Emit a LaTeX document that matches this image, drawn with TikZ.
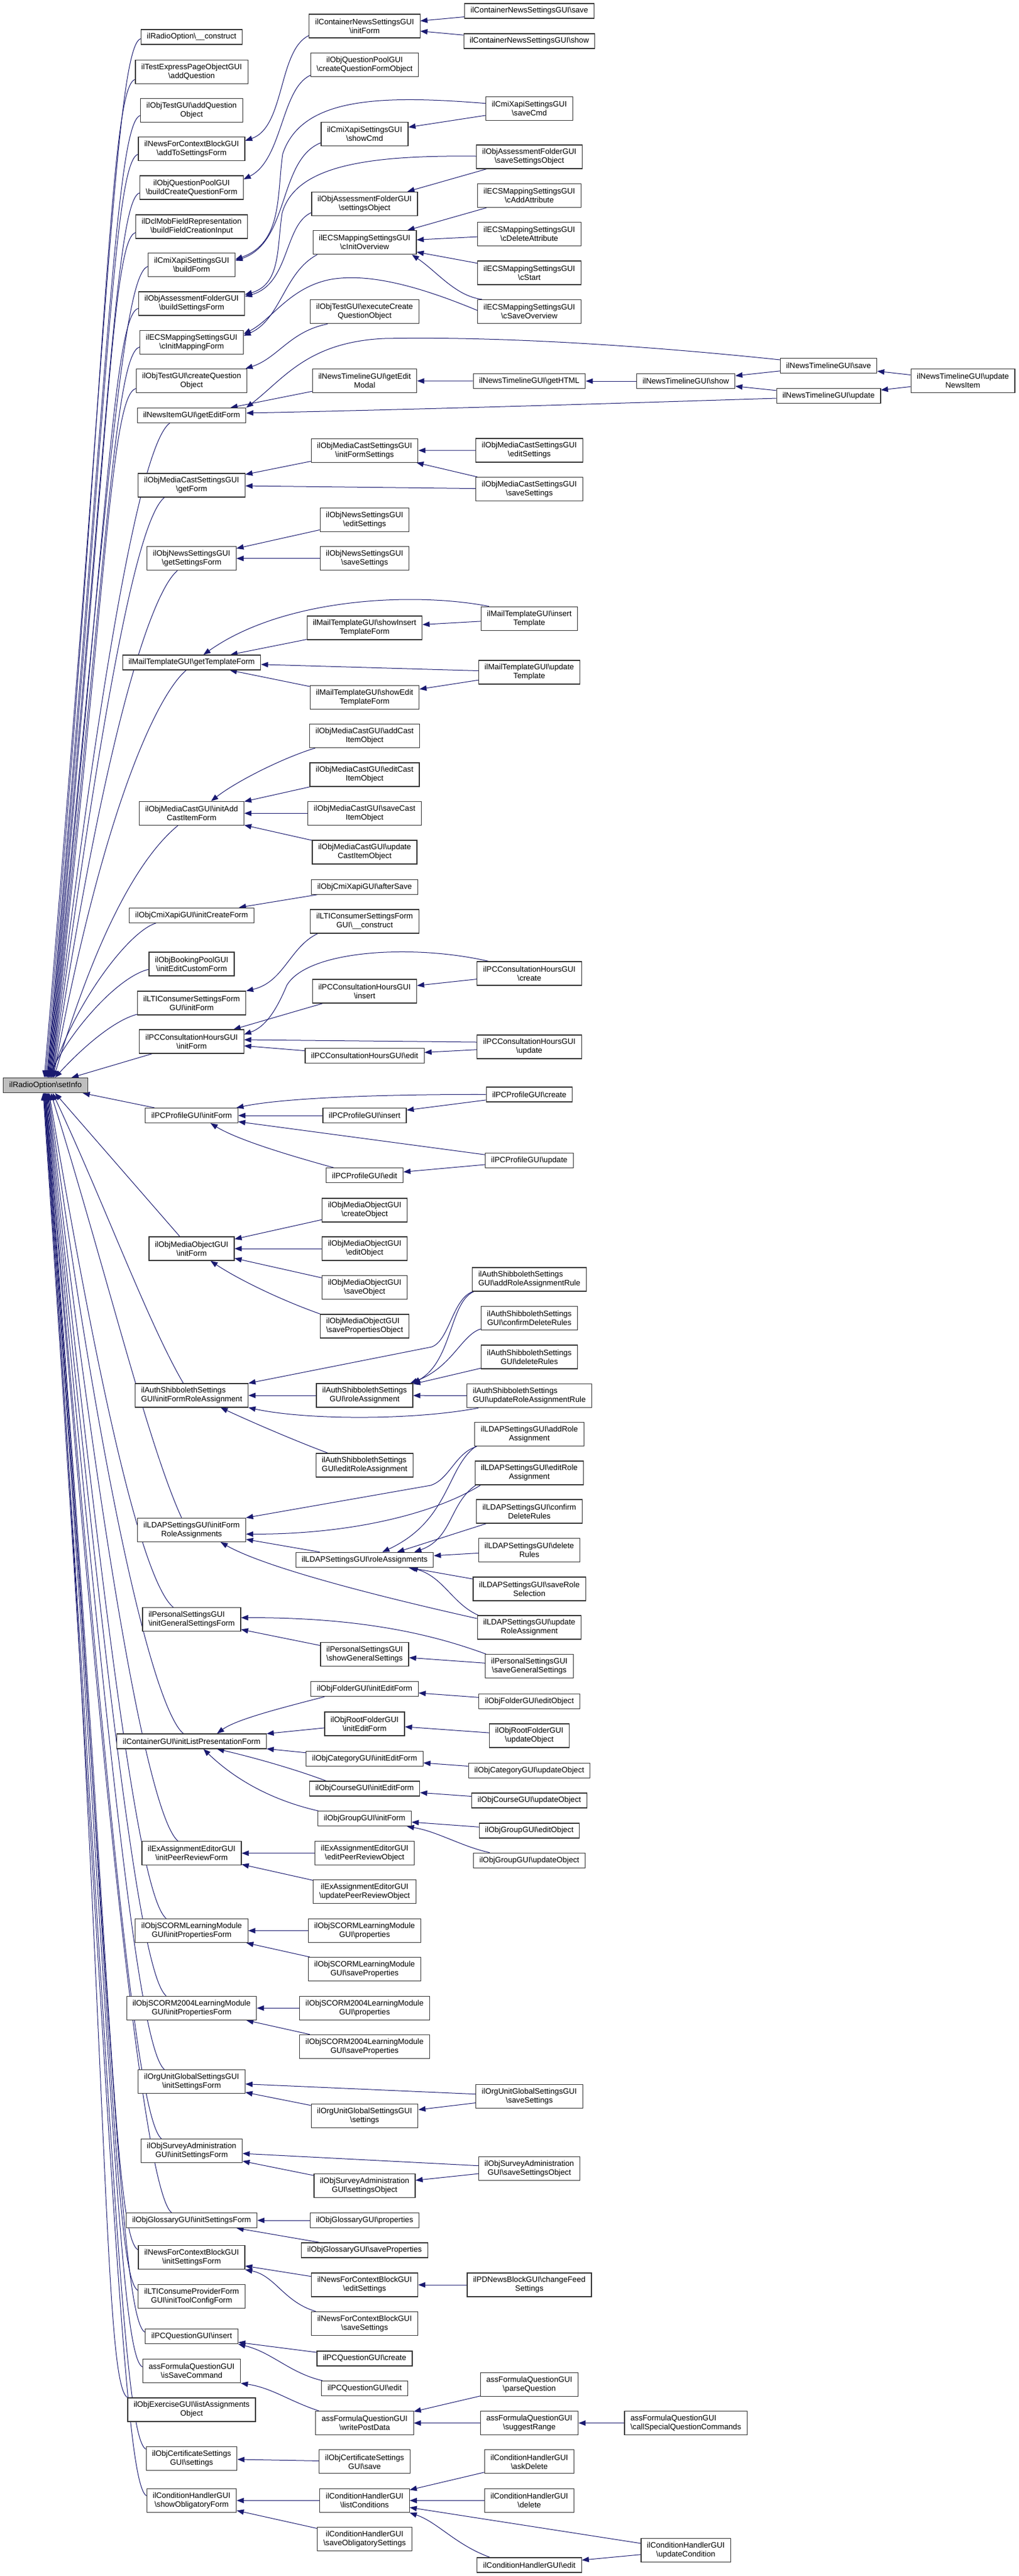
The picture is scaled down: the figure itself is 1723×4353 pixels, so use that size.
\documentclass[tikz,border=0pt]{standalone}
\usepackage{fontspec}
\setmainfont{Liberation Sans}
\usetikzlibrary{arrows.meta,backgrounds}
\definecolor{navyc}{RGB}{25,25,112}
\definecolor{infogray}{RGB}{191,191,191}
\newcommand{\Bsl}{\textbackslash}
\tikzset{
 fnbox/.style={draw=black!80, line width=1.2pt, fill=white, font=\fontsize{13.2}{15}\selectfont, inner xsep=10pt, inner ysep=4pt, minimum height=25pt, align=center},
 two/.style={minimum height=40pt},
 lft/.style={align=left},
 call/.style={draw=navyc, line width=1pt, -{Triangle[length=12pt,width=9pt]}},
}
\newcommand{\upE}[5]{\draw[call] (#1) .. controls ({#2-42},{#3+#4}) and (180,{#3+0.3*(1821-#3)}) .. ([xshift=#5pt]setinfo.north);}
\newcommand{\dnE}[5]{\draw[call] (#1) .. controls ({#2-42},{#3-#4}) and (185,{#3-0.3*(#3-1846)}) .. ([xshift=#5pt]setinfo.south);}
\begin{document}
\begin{tikzpicture}[x=1pt,y=-1pt]
\useasboundingbox (0,0) rectangle (1723,4353);
% ---------------- column 1 ----------------
\node[fnbox] (c1a) at (324,62.5) {ilRadioOption\Bsl\_\_construct};
\node[fnbox,two] (c1b) at (324,121.3) {ilTestExpressPageObjectGUI\\\Bsl addQuestion};
\node[fnbox,two] (c1c) at (324,186.3) {ilObjTestGUI\Bsl addQuestion\\Object};
\node[fnbox,two] (c1d) at (324,251.7) {ilNewsForContextBlockGUI\\\Bsl addToSettingsForm};
\node[fnbox,two] (c1e) at (324,317) {ilObjQuestionPoolGUI\\\Bsl buildCreateQuestionForm};
\node[fnbox,two] (c1f) at (324,383) {ilDclMobFieldRepresentation\\\Bsl buildFieldCreationInput};
\node[fnbox,two] (c1g) at (324,447.4) {ilCmiXapiSettingsGUI\\\Bsl buildForm};
\node[fnbox,two] (c1h) at (324,513) {ilObjAssessmentFolderGUI\\\Bsl buildSettingsForm};
\node[fnbox,two] (c1i) at (324,578.4) {ilECSMappingSettingsGUI\\\Bsl cInitMappingForm};
\node[fnbox,two] (c1j) at (324,643.5) {ilObjTestGUI\Bsl createQuestion\\Object};
\node[fnbox] (c1k) at (324,702) {ilNewsItemGUI\Bsl getEditForm};
\node[fnbox,two] (c1l) at (324,820) {ilObjMediaCastSettingsGUI\\\Bsl getForm};
\node[fnbox,two] (c1m) at (324,943.7) {ilObjNewsSettingsGUI\\\Bsl getSettingsForm};
\node[fnbox] (c1n) at (324,1119.4) {ilMailTemplateGUI\Bsl getTemplateForm};
\node[fnbox,two] (c1o) at (324,1374.3) {ilObjMediaCastGUI\Bsl initAdd\\CastItemForm};
\node[fnbox] (c1p) at (324,1546.6) {ilObjCmiXapiGUI\Bsl initCreateForm};
\node[fnbox,two] (c1q) at (324,1629) {ilObjBookingPoolGUI\\\Bsl initEditCustomForm};
\node[fnbox,two] (c1r) at (324,1695) {ilLTIConsumerSettingsForm\\GUI\Bsl initForm};
\node[fnbox,two] (c1s) at (324,1760) {ilPCConsultationHoursGUI\\\Bsl initForm};
\node[fnbox,fill=infogray] (setinfo) at (77,1834) {ilRadioOption\Bsl setInfo};
\node[fnbox] (c1t) at (324,1885) {ilPCProfileGUI\Bsl initForm};
\node[fnbox,two] (c1u) at (324,2110) {ilObjMediaObjectGUI\\\Bsl initForm};
\node[fnbox,two,lft] (c1v) at (324,2358) {ilAuthShibbolethSettings\\GUI\Bsl initFormRoleAssignment};
\node[fnbox,two] (c1w) at (324,2585.3) {ilLDAPSettingsGUI\Bsl initForm\\RoleAssignments};
\node[fnbox,two,lft] (c1x) at (324,2736.6) {ilPersonalSettingsGUI\\\Bsl initGeneralSettingsForm};
\node[fnbox] (c1y) at (324,2942.4) {ilContainerGUI\Bsl initListPresentationForm};
\node[fnbox,two] (c1z) at (324,3131.6) {ilExAssignmentEditorGUI\\\Bsl initPeerReviewForm};
\node[fnbox,two] (c1aa) at (324,3262.5) {ilObjSCORMLearningModule\\GUI\Bsl initPropertiesForm};
\node[fnbox,two] (c1ab) at (324,3393.3) {ilObjSCORM2004LearningModule\\GUI\Bsl initPropertiesForm};
\node[fnbox,two] (c1ac) at (324,3517.6) {ilOrgUnitGlobalSettingsGUI\\\Bsl initSettingsForm};
\node[fnbox,two] (c1ad) at (324,3634.6) {ilObjSurveyAdministration\\GUI\Bsl initSettingsForm};
\node[fnbox] (c1ae) at (324,3752) {ilObjGlossaryGUI\Bsl initSettingsForm};
\node[fnbox,two] (c1af) at (324,3814.7) {ilNewsForContextBlockGUI\\\Bsl initSettingsForm};
\node[fnbox,two] (c1ag) at (324,3880.3) {ilLTIConsumeProviderForm\\GUI\Bsl initToolConfigForm};
\node[fnbox] (c1ah) at (324,3948) {ilPCQuestionGUI\Bsl insert};
\node[fnbox,two] (c1ai) at (324,4006.6) {assFormulaQuestionGUI\\\Bsl isSaveCommand};
\node[fnbox,two] (c1aj) at (324,4071.9) {ilObjExerciseGUI\Bsl listAssignments\\Object};
\node[fnbox,two] (c1ak) at (324,4154.5) {ilObjCertificateSettings\\GUI\Bsl settings};
\node[fnbox,two] (c1al) at (324,4225.4) {ilConditionHandlerGUI\\\Bsl showObligatoryForm};
% ---------------- column 2 ----------------
\node[fnbox,two] (cnsinit) at (616.5,44) {ilContainerNewsSettingsGUI\\\Bsl initForm};
\node[fnbox,two] (qpcreate) at (616.5,109.2) {ilObjQuestionPoolGUI\\\Bsl createQuestionFormObject};
\node[fnbox,two] (xshow) at (616.5,226.3) {ilCmiXapiSettingsGUI\\\Bsl showCmd};
\node[fnbox,two] (afsettings) at (616.5,344.3) {ilObjAssessmentFolderGUI\\\Bsl settingsObject};
\node[fnbox,two] (ecsov) at (616.5,409.7) {ilECSMappingSettingsGUI\\\Bsl cInitOverview};
\node[fnbox,two] (testexec) at (616.5,526.8) {ilObjTestGUI\Bsl executeCreate\\QuestionObject};
\node[fnbox,two] (ntmodal) at (616.5,643.6) {ilNewsTimelineGUI\Bsl getEdit\\Modal};
\node[fnbox,two] (mcsinit) at (616.5,761.2) {ilObjMediaCastSettingsGUI\\\Bsl initFormSettings};
\node[fnbox,two] (nsedit) at (616.5,878.5) {ilObjNewsSettingsGUI\\\Bsl editSettings};
\node[fnbox,two] (nssave) at (616.5,943.7) {ilObjNewsSettingsGUI\\\Bsl saveSettings};
\node[fnbox,two] (mtshowins) at (616.5,1061) {ilMailTemplateGUI\Bsl showInsert\\TemplateForm};
\node[fnbox,two] (mtshowedit) at (616.5,1178.8) {ilMailTemplateGUI\Bsl showEdit\\TemplateForm};
\node[fnbox,two] (mcadd) at (616.5,1243.5) {ilObjMediaCastGUI\Bsl addCast\\ItemObject};
\node[fnbox,two] (mcedit) at (616.5,1309) {ilObjMediaCastGUI\Bsl editCast\\ItemObject};
\node[fnbox,two] (mcsave) at (616.5,1374.3) {ilObjMediaCastGUI\Bsl saveCast\\ItemObject};
\node[fnbox,two] (mcupdate) at (616.5,1440) {ilObjMediaCastGUI\Bsl update\\CastItemObject};
\node[fnbox] (cmiafter) at (616.5,1498.7) {ilObjCmiXapiGUI\Bsl afterSave};
\node[fnbox,two] (lticonstruct) at (616.5,1557) {ilLTIConsumerSettingsForm\\GUI\Bsl\_\_construct};
\node[fnbox,two] (pchinsert) at (616.5,1675) {ilPCConsultationHoursGUI\\\Bsl insert};
\node[fnbox] (pchedit) at (616.5,1783.8) {ilPCConsultationHoursGUI\Bsl edit};
\node[fnbox] (pcpinsert) at (616.5,1885) {ilPCProfileGUI\Bsl insert};
\node[fnbox] (pcpedit) at (616.5,1986.3) {ilPCProfileGUI\Bsl edit};
\node[fnbox,two] (mocreate) at (616.5,2045) {ilObjMediaObjectGUI\\\Bsl createObject};
\node[fnbox,two] (moedit) at (616.5,2110) {ilObjMediaObjectGUI\\\Bsl editObject};
\node[fnbox,two] (mosave) at (616.5,2175.5) {ilObjMediaObjectGUI\\\Bsl saveObject};
\node[fnbox,two,lft] (moprops) at (616.5,2241) {ilObjMediaObjectGUI\\\Bsl savePropertiesObject};
\node[fnbox,two] (shibrole) at (616.5,2358) {ilAuthShibbolethSettings\\GUI\Bsl roleAssignment};
\node[fnbox,two,lft] (shibedit) at (616.5,2476) {ilAuthShibbolethSettings\\GUI\Bsl editRoleAssignment};
\node[fnbox] (ldaprole) at (616.5,2635.8) {ilLDAPSettingsGUI\Bsl roleAssignments};
\node[fnbox,two] (persshow) at (616.5,2795.7) {ilPersonalSettingsGUI\\\Bsl showGeneralSettings};
\node[fnbox] (folderinit) at (616.5,2854.1) {ilObjFolderGUI\Bsl initEditForm};
\node[fnbox,two] (rootinit) at (616.5,2913) {ilObjRootFolderGUI\\\Bsl initEditForm};
\node[fnbox] (catinit) at (616.5,2971.7) {ilObjCategoryGUI\Bsl initEditForm};
\node[fnbox] (crsinit) at (616.5,3022.5) {ilObjCourseGUI\Bsl initEditForm};
\node[fnbox] (grpinit) at (616.5,3073.2) {ilObjGroupGUI\Bsl initForm};
\node[fnbox,two] (exedit) at (616.5,3131.6) {ilExAssignmentEditorGUI\\\Bsl editPeerReviewObject};
\node[fnbox,two] (exupdate) at (616.5,3196.8) {ilExAssignmentEditorGUI\\\Bsl updatePeerReviewObject};
\node[fnbox,two] (scprops) at (616.5,3262.5) {ilObjSCORMLearningModule\\GUI\Bsl properties};
\node[fnbox,two] (scsave) at (616.5,3327.6) {ilObjSCORMLearningModule\\GUI\Bsl saveProperties};
\node[fnbox,two] (sc4props) at (616.5,3393.3) {ilObjSCORM2004LearningModule\\GUI\Bsl properties};
\node[fnbox,two] (sc4save) at (616.5,3458.4) {ilObjSCORM2004LearningModule\\GUI\Bsl saveProperties};
\node[fnbox,two] (ousettings) at (616.5,3575.8) {ilOrgUnitGlobalSettingsGUI\\\Bsl settings};
\node[fnbox,two] (svsettings) at (616.5,3693.4) {ilObjSurveyAdministration\\GUI\Bsl settingsObject};
\node[fnbox] (glprops) at (616.5,3752) {ilObjGlossaryGUI\Bsl properties};
\node[fnbox] (glsave) at (616.5,3802.4) {ilObjGlossaryGUI\Bsl saveProperties};
\node[fnbox,two] (nfcedit) at (616.5,3861) {ilNewsForContextBlockGUI\\\Bsl editSettings};
\node[fnbox,two] (nfcsave) at (616.5,3926.4) {ilNewsForContextBlockGUI\\\Bsl saveSettings};
\node[fnbox] (pcqcreate) at (616.5,3985.4) {ilPCQuestionGUI\Bsl create};
\node[fnbox] (pcqedit) at (616.5,4035.9) {ilPCQuestionGUI\Bsl edit};
\node[fnbox,two] (afwrite) at (616.5,4094.5) {assFormulaQuestionGUI\\\Bsl writePostData};
\node[fnbox,two] (certsave) at (616.5,4159.8) {ilObjCertificateSettings\\GUI\Bsl save};
\node[fnbox,two] (chlist) at (616.5,4225.4) {ilConditionHandlerGUI\\\Bsl listConditions};
\node[fnbox,two] (chsaveob) at (616.5,4290.4) {ilConditionHandlerGUI\\\Bsl saveObligatorySettings};
% ---------------- column 3 ----------------
\node[fnbox] (cnssave) at (895,18.4) {ilContainerNewsSettingsGUI\Bsl save};
\node[fnbox] (cnsshow) at (895,69.4) {ilContainerNewsSettingsGUI\Bsl show};
\node[fnbox,two] (xsave) at (895,183.7) {ilCmiXapiSettingsGUI\\\Bsl saveCmd};
\node[fnbox,two] (afsave) at (895,265) {ilObjAssessmentFolderGUI\\\Bsl saveSettingsObject};
\node[fnbox,two] (ecsadd) at (895,330.5) {ilECSMappingSettingsGUI\\\Bsl cAddAttribute};
\node[fnbox,two] (ecsdel) at (895,395.7) {ilECSMappingSettingsGUI\\\Bsl cDeleteAttribute};
\node[fnbox,two] (ecsstart) at (895,461) {ilECSMappingSettingsGUI\\\Bsl cStart};
\node[fnbox,two] (ecssave) at (895,526.5) {ilECSMappingSettingsGUI\\\Bsl cSaveOverview};
\node[fnbox] (nthtml) at (895,644) {ilNewsTimelineGUI\Bsl getHTML};
\node[fnbox,two] (mcsedit) at (895,761) {ilObjMediaCastSettingsGUI\\\Bsl editSettings};
\node[fnbox,two] (mcssave) at (895,826.6) {ilObjMediaCastSettingsGUI\\\Bsl saveSettings};
\node[fnbox,two] (mtins) at (895,1045.2) {ilMailTemplateGUI\Bsl insert\\Template};
\node[fnbox,two] (mtupd) at (895,1136) {ilMailTemplateGUI\Bsl update\\Template};
\node[fnbox,two] (pchcreate) at (895,1645) {ilPCConsultationHoursGUI\\\Bsl create};
\node[fnbox,two] (pchupdate) at (895,1769) {ilPCConsultationHoursGUI\\\Bsl update};
\node[fnbox] (pcpcreate) at (895,1849.5) {ilPCProfileGUI\Bsl create};
\node[fnbox] (pcpupdate) at (895,1961.2) {ilPCProfileGUI\Bsl update};
\node[fnbox,two,lft] (shibadd) at (895,2162) {ilAuthShibbolethSettings\\GUI\Bsl addRoleAssignmentRule};
\node[fnbox,two] (shibconf) at (895,2227.7) {ilAuthShibbolethSettings\\GUI\Bsl confirmDeleteRules};
\node[fnbox,two] (shibdel) at (895,2292.9) {ilAuthShibbolethSettings\\GUI\Bsl deleteRules};
\node[fnbox,two,lft] (shibupd) at (895,2358.6) {ilAuthShibbolethSettings\\GUI\Bsl updateRoleAssignmentRule};
\node[fnbox,two] (ldapadd) at (895,2423.7) {ilLDAPSettingsGUI\Bsl addRole\\Assignment};
\node[fnbox,two] (ldapedit) at (895,2489) {ilLDAPSettingsGUI\Bsl editRole\\Assignment};
\node[fnbox,two] (ldapconf) at (895,2554) {ilLDAPSettingsGUI\Bsl confirm\\DeleteRules};
\node[fnbox,two] (ldapdel) at (895,2619.3) {ilLDAPSettingsGUI\Bsl delete\\Rules};
\node[fnbox,two] (ldapsel) at (895,2685) {ilLDAPSettingsGUI\Bsl saveRole\\Selection};
\node[fnbox,two] (ldapupd) at (895,2750) {ilLDAPSettingsGUI\Bsl update\\RoleAssignment};
\node[fnbox,two] (perssave) at (895,2815.7) {ilPersonalSettingsGUI\\\Bsl saveGeneralSettings};
\node[fnbox] (folderedit) at (895,2874.6) {ilObjFolderGUI\Bsl editObject};
\node[fnbox,two] (rootupd) at (895,2933) {ilObjRootFolderGUI\\\Bsl updateObject};
\node[fnbox] (catupd) at (895,2992) {ilObjCategoryGUI\Bsl updateObject};
\node[fnbox] (crsupd) at (895,3042.5) {ilObjCourseGUI\Bsl updateObject};
\node[fnbox] (grpedit) at (895,3093.5) {ilObjGroupGUI\Bsl editObject};
\node[fnbox] (grpupd) at (895,3143.7) {ilObjGroupGUI\Bsl updateObject};
\node[fnbox,two] (ousave) at (895,3542.7) {ilOrgUnitGlobalSettingsGUI\\\Bsl saveSettings};
\node[fnbox,two] (svsave) at (895,3664.1) {ilObjSurveyAdministration\\GUI\Bsl saveSettingsObject};
\node[fnbox,two] (pdnews) at (895,3861) {ilPDNewsBlockGUI\Bsl changeFeed\\Settings};
\node[fnbox,two] (afparse) at (895,4029.4) {assFormulaQuestionGUI\\\Bsl parseQuestion};
\node[fnbox,two] (afsuggest) at (895,4094.5) {assFormulaQuestionGUI\\\Bsl suggestRange};
\node[fnbox,two] (chask) at (895,4159.8) {ilConditionHandlerGUI\\\Bsl askDelete};
\node[fnbox,two] (chdel) at (895,4225.4) {ilConditionHandlerGUI\\\Bsl delete};
\node[fnbox] (chedit) at (895,4334.4) {ilConditionHandlerGUI\Bsl edit};
% ---------------- columns 4-6 ----------------
\node[fnbox] (ntshow) at (1159.6,644) {ilNewsTimelineGUI\Bsl show};
\node[fnbox,two,lft] (afcall) at (1159.6,4094.5) {assFormulaQuestionGUI\\\Bsl callSpecialQuestionCommands};
\node[fnbox,two] (chupdcond) at (1159.6,4309.6) {ilConditionHandlerGUI\\\Bsl updateCondition};
\node[fnbox] (ntsave) at (1401,618) {ilNewsTimelineGUI\Bsl save};
\node[fnbox] (ntupdate) at (1401,669) {ilNewsTimelineGUI\Bsl update};
\node[fnbox,two] (ntupdni) at (1628,643.4) {ilNewsTimelineGUI\Bsl update\\NewsItem};

\begin{pgfonlayer}{background}
\fill[white] (0,0) rectangle (1723,4353);
% ---- edges into setInfo (upper) ----
\upE{[yshift=-3pt]c1a.west}{238}{65.5}{12}{-2}
\upE{[yshift=-13pt]c1b.west}{227}{134}{12}{0}
\upE{[yshift=-9pt]c1c.west}{236.5}{195}{12}{2}
\upE{[yshift=-9pt]c1d.west}{232}{261}{12}{3}
\upE{[yshift=-9pt]c1e.west}{236.5}{326}{12}{4}
\upE{[yshift=-10pt]c1f.west}{229}{393}{12}{5}
\upE{[yshift=-3pt]c1g.west}{248.6}{450.4}{12}{6}
\upE{[yshift=-8pt]c1h.west}{233}{521}{12}{7}
\upE{[yshift=-8pt]c1i.west}{235.4}{586.4}{12}{8}
\upE{[yshift=-13pt]c1j.west}{228.5}{656.5}{12}{9}
\upE{[xshift=-37pt]c1k.south}{287}{714.5}{30}{10}
\upE{[xshift=-46pt]c1l.south}{278}{840}{35}{11}
\upE{[xshift=-24pt]c1m.south}{300}{963.7}{35}{12}
\upE{[xshift=-9pt]c1n.south}{315}{1131.9}{35}{13}
\upE{[xshift=-23pt]c1o.south}{301}{1394.3}{35}{14}
\draw[call] ([xshift=46pt]c1p.south west) .. controls (215,1575) and (125,1700) .. ([xshift=9pt]setinfo.north);
\draw[call] ([yshift=-9pt]c1q.west) .. controls (200,1650) and (120,1740) .. ([xshift=5pt]setinfo.north);
\draw[call] ([yshift=-19pt]c1r.west) .. controls (190,1725) and (135,1775) .. ([xshift=16pt]setinfo.north);
\draw[call] ([xshift=22pt]c1s.south west) -- ([xshift=-28pt]setinfo.north east);
% ---- edges into setInfo (lower) ----
\draw[call] ([xshift=16pt]c1t.north west) -- ([xshift=-9pt]setinfo.south east);
\draw[call] ([xshift=-20pt]c1u.north) -- ([xshift=16pt]setinfo.south);
\draw[call] ([xshift=-14pt]c1v.north) .. controls (250,2235) and (175,2030) .. ([xshift=12pt]setinfo.south);
\draw[call] ([xshift=-17pt]c1w.north) .. controls (250,2440) and (180,2150) .. ([xshift=9pt]setinfo.south);
\dnE{[xshift=-31pt]c1x.north}{293}{2716.6}{35}{6}
\dnE{[xshift=-14pt]c1y.north}{310}{2929.9}{35}{5}
\dnE{[xshift=-23pt]c1z.north}{301}{3111.6}{35}{4}
\dnE{[xshift=-43pt]c1aa.north}{281}{3242.5}{35}{3}
\dnE{[xshift=-43pt]c1ab.north}{281}{3373.3}{35}{2}
\dnE{[xshift=-46pt]c1ac.north}{278}{3497.6}{35}{1}
\dnE{[xshift=-51pt]c1ad.north}{273}{3614.6}{35}{0}
\dnE{[xshift=-34pt]c1ae.north}{290}{3739.5}{35}{0}
\dnE{[yshift=13pt]c1af.west}{231.3}{3801.7}{20}{-1}
\dnE{[yshift=10pt]c1ag.west}{233}{3870}{20}{-1}
\dnE{[yshift=7pt]c1ah.west}{244.5}{3941}{20}{-2}
\dnE{[yshift=7pt]c1ai.west}{240.5}{3999.6}{20}{-2}
\dnE{c1aj.north west}{214}{4052}{25}{-3}
\dnE{[yshift=16pt]c1ak.west}{245.7}{4138.5}{20}{-3}
\dnE{[yshift=8pt]c1al.west}{248}{4217.4}{20}{-4}
% ---- other edges, top block ----
\draw[call] (cnssave) -- (cnsinit);
\draw[call] (cnsshow) -- (cnsinit);
\draw[call] ([yshift=-16pt]cnsinit.west) .. controls (470,85) and (482,215) .. ([yshift=14pt]c1d.east);
\draw[call] ([yshift=-18pt]qpcreate.west) .. controls (475,150) and (478,270) .. ([yshift=14pt]c1e.east);
\draw[call] (xsave) -- (xshow);
\draw[call] ([yshift=9pt]xsave.west) .. controls (640,160) and (510,165) .. (478,260) .. controls (468,330) and (478,410) .. ([yshift=9pt]c1g.east);
\draw[call] ([yshift=-15pt]xshow.west) .. controls (470,270) and (490,410) .. ([yshift=7pt]c1g.east);
\draw[call] (afsave) -- (afsettings);
\draw[call] ([yshift=1pt]afsave.west) .. controls (620,262) and (500,280) .. (477,360) .. controls (468,420) and (475,480) .. ([yshift=15pt]c1h.east);
\draw[call] ([yshift=-15pt]afsettings.west) .. controls (480,380) and (490,480) .. ([yshift=12pt]c1h.east);
\draw[call] (ecsadd) -- (ecsov);
\draw[call] (ecsdel) -- (ecsov);
\draw[call] (ecsstart) -- (ecsov);
\draw[call] ([xshift=8pt]ecssave.north west) .. controls (770,500) and (740,460) .. ([xshift=-8pt]ecsov.south east);
\draw[call] ([yshift=2pt]ecssave.west) .. controls (700,480) and (620,462) .. (560,472) .. controls (490,485) and (460,540) .. ([yshift=14pt]c1i.east);
\draw[call] ([xshift=8pt]ecsov.south west) .. controls (480,460) and (475,540) .. ([yshift=11pt]c1i.east);
\draw[call] ([xshift=30pt]testexec.south west) .. controls (490,560) and (470,605) .. ([xshift=-3pt]c1j.north east);
\draw[call] (nthtml) -- (ntmodal);
\draw[call] (ntmodal) -- (c1k);
\draw[call] ([yshift=10pt]ntsave.west) .. controls (1100,585) and (850,568) .. (650,572) .. controls (520,578) and (480,640) .. (c1k.north east);
\draw[call] ([yshift=-4pt]ntupdate.west) .. controls (1000,683) and (700,692) .. ([yshift=4pt]c1k.east);
\draw[call] (ntshow) -- (nthtml);
\draw[call] (ntsave) -- (ntshow);
\draw[call] (ntupdate) -- (ntshow);
\draw[call] (ntupdni) -- (ntsave);
\draw[call] (ntupdni) -- (ntupdate);
% ---- media cast / news / mail ----
\draw[call] (mcsedit) -- (mcsinit);
\draw[call] (mcssave) -- (mcsinit);
\draw[call] (mcssave) -- (c1l);
\draw[call] (mcsinit) -- (c1l);
\draw[call] (nsedit) -- (c1m);
\draw[call] (nssave) -- (c1m);
\draw[call] ([xshift=14pt]mtins.north west) .. controls (700,1000) and (480,1010) .. ([xshift=20pt]c1n.north);
\draw[call] (mtins) -- (mtshowins);
\draw[call] (mtshowins) -- (c1n);
\draw[call] (mtupd) -- (c1n);
\draw[call] (mtupd) -- (mtshowedit);
\draw[call] (mtshowedit) -- (c1n);
\draw[call] ([xshift=10pt]mcadd.south west) .. controls (480,1280) and (400,1320) .. ([xshift=33pt]c1o.north);
\draw[call] (mcedit) -- (c1o);
\draw[call] (mcsave) -- (c1o);
\draw[call] (mcupdate) -- (c1o);
% ---- cmi / lti / consultation / profile ----
\draw[call] (cmiafter) -- (c1p);
\draw[call] ([xshift=13pt]lticonstruct.south west) .. controls (490,1600) and (480,1660) .. (c1r.north east);
\draw[call] ([xshift=20pt]pchcreate.north west) .. controls (700,1595) and (520,1605) .. (485,1665) .. controls (468,1705) and (450,1735) .. ([yshift=12pt]c1s.east);
\draw[call] (pchcreate) -- (pchinsert);
\draw[call] (pchinsert) -- (c1s);
\draw[call] ([yshift=8pt]pchupdate.west) -- ([yshift=3pt]c1s.east);
\draw[call] (pchupdate) -- (pchedit);
\draw[call] (pchedit) -- (c1s);
\draw[call] (pcpcreate.west) .. controls (650,1849) and (480,1855) .. ([xshift=-3pt]c1t.north east);
\draw[call] (pcpcreate) -- (pcpinsert);
\draw[call] (pcpinsert) -- (c1t);
\draw[call] (pcpupdate) -- (c1t);
\draw[call] (pcpupdate) -- (pcpedit);
\draw[call] ([xshift=-52pt]pcpedit.north) .. controls (480,1950) and (400,1925) .. ([xshift=32pt]c1t.south);
% ---- media object ----
\draw[call] (mocreate) -- (c1u);
\draw[call] (moedit) -- (c1u);
\draw[call] (mosave) -- (c1u);
\draw[call] ([xshift=-75pt]moprops.north) .. controls (470,2195) and (400,2160) .. ([xshift=32pt]c1u.south);
% ---- shibboleth ----
\draw[call] ([xshift=3pt]shibadd.south west) .. controls (760,2200) and (765,2300) .. (shibrole.north east);
\draw[call] ([xshift=1pt]shibadd.south west) .. controls (765,2195) and (760,2265) .. (730,2276) -- (c1v.north east);
\draw[call] ([yshift=-18pt]shibconf.west) .. controls (780,2256) and (765,2310) .. ([xshift=-5pt]shibrole.north east);
\draw[call] (shibdel) -- (shibrole);
\draw[call] (shibupd) -- (shibrole);
\draw[call] ([xshift=20pt]shibupd.south west) .. controls (700,2400) and (520,2400) .. (c1v.south east);
\draw[call] (shibrole) -- (c1v);
\draw[call] ([xshift=-62pt]shibedit.north) .. controls (500,2435) and (430,2405) .. ([xshift=49pt]c1v.south);
% ---- LDAP ----
\draw[call] ([xshift=4pt]ldapadd.south west) .. controls (770,2455) and (760,2500) .. (728,2510) -- (c1w.north east);
\draw[call] ([xshift=2pt]ldapadd.south west) .. controls (755,2480) and (760,2570) .. ([xshift=30pt]ldaprole.north);
\draw[call] ([xshift=10pt]ldapedit.south west) .. controls (740,2555) and (600,2593) .. ([yshift=-7pt]c1w.east);
\draw[call] ([xshift=2pt]ldapedit.south west) .. controls (760,2540) and (765,2600) .. ([xshift=84pt]ldaprole.north);
\draw[call] ([xshift=17pt]ldapconf.south west) -- ([xshift=55pt]ldaprole.north);
\draw[call] (ldapdel) -- (ldaprole);
\draw[call] (ldapsel) -- (ldaprole);
\draw[call] ([xshift=2pt]ldapupd.north west) .. controls (765,2710) and (750,2665) .. ([xshift=78pt]ldaprole.south);
\draw[call] ([yshift=15pt]ldapupd.west) .. controls (650,2700) and (450,2650) .. ([xshift=49pt]c1w.south);
\draw[call] (ldaprole) -- (c1w);
% ---- personal / container ----
\draw[call] ([xshift=2pt]perssave.north west) .. controls (740,2765) and (620,2733) .. ([yshift=3pt]c1x.east);
\draw[call] (perssave) -- (persshow);
\draw[call] (persshow) -- (c1x);
\draw[call] (folderedit) -- (folderinit);
\draw[call] ([xshift=-68pt]folderinit.south) .. controls (480,2885) and (400,2905) .. ([xshift=43pt]c1y.north);
\draw[call] (rootinit) -- (c1y);
\draw[call] (rootupd) -- (rootinit);
\draw[call] (catinit) -- (c1y);
\draw[call] (catupd) -- (catinit);
\draw[call] ([xshift=-65pt]crsinit.north) .. controls (500,2990) and (430,2970) .. ([xshift=43pt]c1y.south);
\draw[call] (crsupd) -- (crsinit);
\draw[call] ([xshift=-78pt]grpinit.north) .. controls (450,3040) and (390,3000) .. ([xshift=20pt]c1y.south);
\draw[call] (grpedit) -- (grpinit);
\draw[call] ([xshift=28pt]grpupd.north west) .. controls (780,3120) and (740,3095) .. ([xshift=-8pt]grpinit.south east);
% ---- exercise / scorm / orgunit ----
\draw[call] (exedit) -- (c1z);
\draw[call] (exupdate) -- (c1z);
\draw[call] (scprops) -- (c1aa);
\draw[call] (scsave) -- (c1aa);
\draw[call] (sc4props) -- (c1ab);
\draw[call] (sc4save) -- (c1ab);
\draw[call] (ousave) -- (c1ac);
\draw[call] (ousave) -- (ousettings);
\draw[call] (ousettings) -- (c1ac);
% ---- survey / glossary / news / pcquestion / formula ----
\draw[call] (svsave) -- (c1ad);
\draw[call] (svsave) -- (svsettings);
\draw[call] (svsettings) -- (c1ad);
\draw[call] (glprops) -- (c1ae);
\draw[call] (glsave) -- (c1ae);
\draw[call] (nfcedit) -- (c1af);
\draw[call] ([xshift=8pt]nfcsave.north west) .. controls (480,3890) and (465,3845) .. (c1af.south east);
\draw[call] (pdnews) -- (nfcedit);
\draw[call] (pcqcreate) -- (c1ah);
\draw[call] ([xshift=2pt]pcqedit.north west) .. controls (490,4010) and (460,3975) .. (c1ah.south east);
\draw[call] ([xshift=6pt]afwrite.north west) .. controls (490,4058) and (460,4035) .. (c1ai.south east);
\draw[call] (afparse) -- (afwrite);
\draw[call] (afsuggest) -- (afwrite);
\draw[call] (afcall) -- (afsuggest);
\draw[call] (certsave) -- (c1ak);
% ---- condition handler ----
\draw[call] (chask) -- (chlist);
\draw[call] (chdel) -- (chlist);
\draw[call] (chupdcond) -- (chlist);
\draw[call] (chupdcond) -- (chedit);
\draw[call] ([xshift=22pt]chedit.north west) .. controls (770,4300) and (740,4262) .. (chlist.south east);
\draw[call] (chlist) -- (c1al);
\draw[call] (chsaveob) -- (c1al);
\end{pgfonlayer}
\end{tikzpicture}
\end{document}
